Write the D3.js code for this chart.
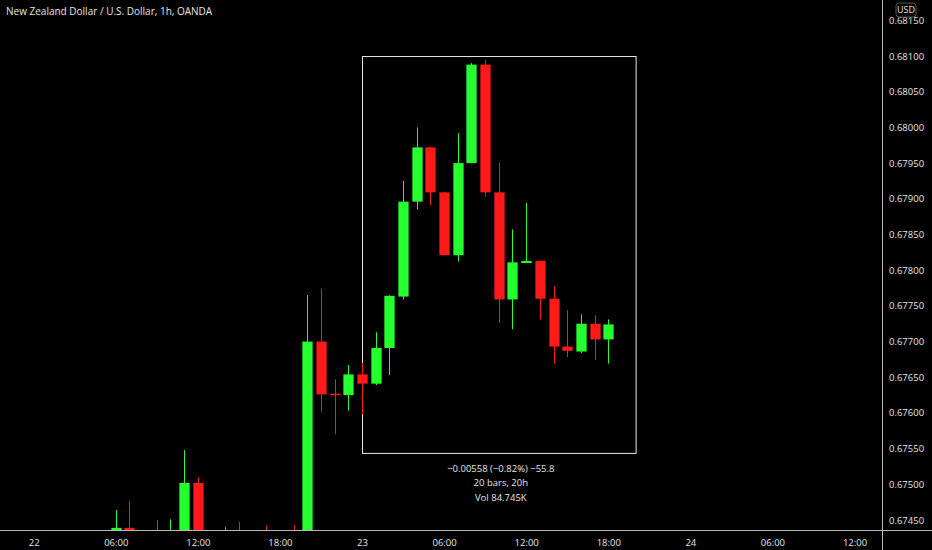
<!DOCTYPE html>
<html>
<head>
<meta charset="utf-8">
<script src="https://cdn.jsdelivr.net/npm/d3@7"></script>
<style>
  html, body { margin: 0; padding: 0; background: #000; }
  #chart { width: 932px; height: 550px; }
  text { font-family: "Open Sans", "Noto Sans", sans-serif; fill: #e6e6e6; }
</style>
</head>
<body>
<div id="chart"></div>
<script>
// hours counted from 22 00:00
var hours  = [6, 7, 9, 10, 11, 12, 14, 15, 17, 19, 20, 21, 22, 23, 24, 25, 26, 27, 28, 29, 30, 31, 32, 33, 34, 35, 36, 37, 38, 39, 40, 41, 42];
var opens  = [0.67410, 0.67439, 0.67425, 0.67410, 0.67400, 0.67502, 0.67420, 0.67420, 0.67420, 0.67425, 0.67400, 0.67700, 0.67627, 0.67625, 0.67654, 0.67641, 0.67691, 0.67763, 0.67896, 0.67972, 0.67909, 0.67821, 0.67950, 0.68088, 0.67909, 0.67759, 0.67810, 0.67813, 0.67760, 0.67693, 0.67686, 0.67725, 0.67703];
var highs  = [0.67464, 0.67477, 0.67450, 0.67451, 0.67548, 0.67510, 0.67440, 0.67447, 0.67442, 0.67443, 0.67765, 0.67774, 0.67647, 0.67667, 0.67670, 0.67713, 0.67765, 0.67925, 0.68000, 0.67973, 0.67909, 0.67992, 0.68090, 0.68095, 0.67951, 0.67857, 0.67894, 0.67813, 0.67778, 0.67744, 0.67738, 0.67737, 0.67731];
var lows   = [0.67390, 0.67380, 0.67390, 0.67400, 0.67380, 0.67380, 0.67400, 0.67400, 0.67400, 0.67400, 0.67380, 0.67602, 0.67570, 0.67603, 0.67598, 0.67639, 0.67653, 0.67759, 0.67885, 0.67891, 0.67821, 0.67812, 0.67950, 0.67903, 0.67726, 0.67717, 0.67810, 0.67731, 0.67669, 0.67678, 0.67684, 0.67674, 0.67669];
var closes = [0.67439, 0.67400, 0.67410, 0.67428, 0.67502, 0.67400, 0.67420, 0.67410, 0.67410, 0.67410, 0.67700, 0.67626, 0.67625, 0.67654, 0.67641, 0.67691, 0.67764, 0.67896, 0.67972, 0.67909, 0.67821, 0.67950, 0.68088, 0.67909, 0.67759, 0.67811, 0.67813, 0.67760, 0.67693, 0.67687, 0.67725, 0.67703, 0.67724];

var xTickHours  = [0, 6, 12, 18, 24, 30, 36, 42, 48, 54, 60];
var xTickLabels = ["22", "06:00", "12:00", "18:00", "23", "06:00", "12:00", "18:00", "24", "06:00", "12:00"];
var yTicks = [0.67450, 0.67500, 0.67550, 0.67600, 0.67650, 0.67700, 0.67750, 0.67800, 0.67850, 0.67900, 0.67950, 0.68000, 0.68050, 0.68100, 0.68150];

// measure tool: bars 24..44, price 0.68100 -> 0.67544
var measureHours  = [24, 44];
var measurePrices = [0.68100, 0.67544];
var measureLines  = ["\u22120.00558 (\u22120.82%) \u221255.8", "20 bars, 20h", "Vol 84.745K"];

var title = "New Zealand Dollar / U.S. Dollar, 1h, OANDA";

var width = 932;
var height = 550;
var plotRight = 882;
var plotBottom = 530;

var svg = d3.select("#chart")
    .append("svg")
    .attr("width", width)
    .attr("height", height);

svg.append("rect").attr("width", width).attr("height", height).attr("fill", "#000");

var xScale = d3.scaleLinear()
    .domain([-2.463, 62.01])
    .range([0, plotRight]);

var yScale = d3.scaleLinear()
    .domain([0.67436, 0.681785])
    .range([plotBottom, 0]);

var step = xScale(1) - xScale(0);
var bodyW = step * 0.75;

svg.append("clipPath").attr("id", "plotClip")
    .append("rect").attr("x", 0).attr("y", 0).attr("width", plotRight).attr("height", plotBottom);

var plot = svg.append("g").attr("clip-path", "url(#plotClip)");

// measure box
plot.append("rect")
    .attr("x", xScale(measureHours[0]) + 0.5)
    .attr("y", yScale(measurePrices[0]) + 0.5)
    .attr("width", xScale(measureHours[1]) - xScale(measureHours[0]))
    .attr("height", yScale(measurePrices[1]) - yScale(measurePrices[0]))
    .attr("fill", "none")
    .attr("stroke", "#e8e8e8")
    .attr("stroke-width", 1);

var candles = hours.map(function(h, i) {
    return {h: h, o: opens[i], hi: highs[i], lo: lows[i], c: closes[i]};
});

function colorOf(d) {
    if (d.c > d.o) return "#26ff2f";
    if (d.c < d.o) return "#ff1a1a";
    return "#9a9a9a";
}

var g = plot.selectAll(".candle")
    .data(candles)
    .enter()
    .append("g")
    .attr("class", "candle");

g.append("line")
    .attr("x1", function(d) { return Math.round(xScale(d.h)) + 0.5; })
    .attr("x2", function(d) { return Math.round(xScale(d.h)) + 0.5; })
    .attr("y1", function(d) { return yScale(d.hi); })
    .attr("y2", function(d) { return yScale(d.lo); })
    .attr("stroke", colorOf)
    .attr("stroke-width", 1);

g.append("rect")
    .attr("x", function(d) { return Math.round(xScale(d.h)) + 0.5 - bodyW / 2; })
    .attr("y", function(d) { return yScale(Math.max(d.o, d.c)); })
    .attr("width", bodyW)
    .attr("height", function(d) { return Math.max(1.5, Math.abs(yScale(d.o) - yScale(d.c))); })
    .attr("fill", colorOf);

// measure text
var mx = (xScale(measureHours[0]) + xScale(measureHours[1])) / 2 + 2;
var my = yScale(measurePrices[1]);
svg.selectAll(".measure")
    .data(measureLines)
    .enter()
    .append("text")
    .attr("class", "measure")
    .attr("x", mx)
    .attr("y", function(d, i) { return my + 19 + i * 14.3; })
    .attr("text-anchor", "middle")
    .attr("font-size", "9.5px")
    .text(function(d) { return d; });

// axes
var xAxis = svg.append("g")
    .attr("transform", "translate(0," + plotBottom + ")")
    .call(d3.axisBottom(xScale)
        .tickValues(xTickHours)
        .tickSize(0)
        .tickPadding(9)
        .tickFormat(function(d, i) { return xTickLabels[i]; }));
xAxis.select(".domain").remove();
xAxis.selectAll("text").attr("font-size", "9.5px").attr("fill", "#e6e6e6").attr("font-family", null);

var yAxis = svg.append("g")
    .attr("transform", "translate(" + plotRight + ",0)")
    .call(d3.axisRight(yScale)
        .tickValues(yTicks)
        .tickSize(0)
        .tickPadding(7)
        .tickFormat(d3.format(".5f")));
yAxis.select(".domain").remove();
yAxis.selectAll("text").attr("font-size", "9.5px").attr("fill", "#e6e6e6").attr("font-family", null);

// frame lines
svg.append("line")
    .attr("x1", 0).attr("x2", width)
    .attr("y1", plotBottom + 0.5).attr("y2", plotBottom + 0.5)
    .attr("stroke", "#b8b8b8");
svg.append("line")
    .attr("x1", plotRight + 0.5).attr("x2", plotRight + 0.5)
    .attr("y1", 0).attr("y2", height)
    .attr("stroke", "#b8b8b8");

// currency badge
var badge = svg.append("g").attr("transform", "translate(906,10)");
badge.append("rect")
    .attr("x", -10).attr("y", -7).attr("width", 20).attr("height", 14)
    .attr("rx", 3).attr("fill", "#000").attr("stroke", "#555");
badge.append("text")
    .attr("text-anchor", "middle").attr("dy", "0.35em")
    .attr("font-size", "9px")
    .text("USD");

svg.append("text")
    .attr("x", 6)
    .attr("y", 15)
    .attr("font-size", "10px")
    .text(title);
</script>
</body>
</html>
